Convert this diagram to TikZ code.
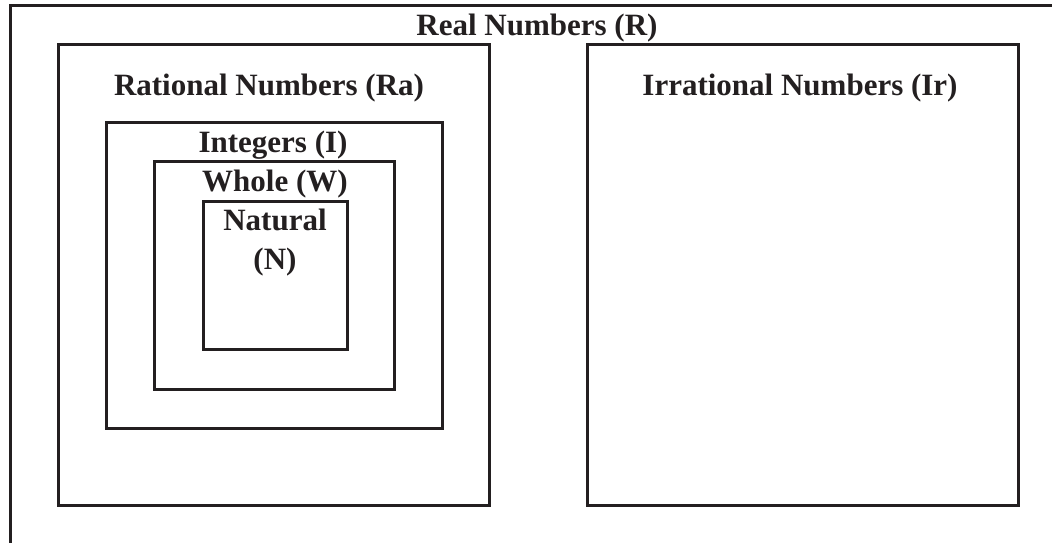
\documentclass[tikz,border=0pt]{standalone}
\usepackage{fontspec}
\setmainfont{Liberation Serif}
\usetikzlibrary{positioning}
\definecolor{ink}{HTML}{231F20}

\begin{document}
\begin{tikzpicture}[x=1pt,y=-1pt,
    box/.style={draw=ink,line width=3pt},
    lbl/.style={anchor=base,inner sep=0pt,text=ink,font=\bfseries\fontsize{31}{39}\selectfont}]
  \useasboundingbox (0,0) rectangle (1052,542);
  % outer frame (cut off at right and bottom)
  \draw[box] (10,546) -- (10,5) -- (1056,5);
  % sets
  \draw[box] (58,44) rectangle (489,505);
  \draw[box] (587,44) rectangle (1018,505);
  \draw[box] (106,122) rectangle (442,428);
  \draw[box] (154,161) rectangle (394,389);
  \draw[box] (203,201) rectangle (347,349);
  % labels
  \node[lbl] (real) at (537,35) {Real Numbers (R)};
  \node[lbl] (rat) at (269,95) {Rational Numbers (Ra)};
  \node[lbl] (irr) at (800,95) {Irrational Numbers (Ir)};
  \node[lbl] (int) at (273,152) {Integers (I)};
  \node[lbl] (whole) at (275,191) {Whole (W)};
  \node[lbl] (nat) at (275,230) {Natural};
  \node[lbl, below=39pt of nat.base, anchor=base] (natn) {(N)};
\end{tikzpicture}
\end{document}
